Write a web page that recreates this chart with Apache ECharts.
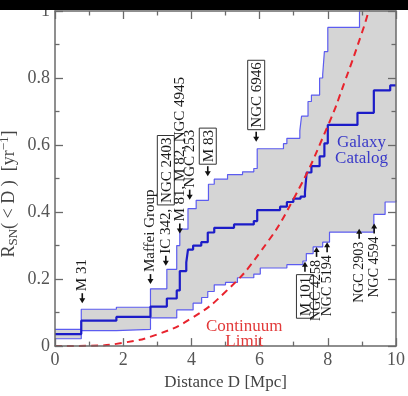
<!DOCTYPE html>
<html><head><meta charset="utf-8">
<script src="https://cdn.jsdelivr.net/npm/echarts@6/dist/echarts.min.js"></script>
<style>html,body{margin:0;padding:0;background:#fff}#c{width:408px;height:396px}</style>
</head><body><div id="c"></div>
<script>
// ---- data ----
const xTickLabels = ['0','2','4','6','8','10'];
const yTickLabels = ['0','0.2','0.4','0.6','0.8','1'];
// step functions: [distance D (Mpc), R_SN(<D) (1/yr)] value holds from D to next D
const upperBound = [[0,0.05],[0.77,0.11],[1.8,0.116],[2.8,0.171],[3.28,0.229],[3.57,0.30],[3.66,0.349],[3.9,0.41],[4.14,0.435],[4.5,0.483],[4.67,0.498],[5.06,0.512],[5.5,0.52],[5.83,0.53],[5.93,0.589],[6.7,0.604],[6.8,0.62],[7.18,0.643],[7.23,0.686],[7.42,0.73],[7.52,0.749],[7.76,0.8],[7.85,0.81],[7.9,0.879],[8.0,0.951],[8.93,1.05],[10,1.05]];
const galaxyCatalog = [[0,0.036],[0.77,0.076],[1.8,0.087],[2.8,0.118],[3.28,0.142],[3.57,0.166],[3.66,0.224],[3.85,0.25],[3.9,0.288],[4.05,0.3],[4.29,0.31],[4.48,0.339],[4.67,0.353],[5.25,0.363],[5.83,0.373],[5.93,0.406],[6.6,0.416],[6.8,0.43],[6.99,0.44],[7.2,0.446],[7.33,0.46],[7.38,0.518],[7.52,0.537],[7.76,0.566],[7.9,0.605],[8.0,0.66],[8.87,0.696],[9.35,0.763],[9.83,0.778],[10,0.778]];
const lowerBound = [[0,0.022],[0.77,0.046],[1.8,0.05],[2.8,0.084],[3.57,0.108],[4.05,0.128],[4.3,0.145],[4.48,0.163],[4.67,0.183],[5.0,0.19],[5.35,0.204],[5.83,0.215],[6.02,0.233],[6.8,0.243],[7.27,0.254],[7.37,0.276],[7.57,0.296],[7.85,0.31],[8.05,0.34],[9.35,0.393],[9.68,0.43],[10,0.435]];
const continuumLimit = [[0,0],[1,0.001],[2,0.01],[3,0.035],[4,0.083],[5,0.162],[6,0.278],[7,0.44],[8,0.657],[8.5,0.79],[9,0.935],[9.2,1.0],[9.4,1.07]];
// annotations: [text, D, R at arrow tip]
const aboveLabels = [['M 31',0.8,0.128],['Maffei Group',2.8,0.185],['IC 342, {b|NGC 2403}',3.25,0.24],['M 81, M 82, NGC 4945',3.66,0.336],['NGC 253',3.95,0.437],['{b|M 83}',4.48,0.507],['{b|NGC 6946}',5.9,0.61]];
const belowLabels = [['{b|M 101}',7.33,0.252],['NGC 4258',7.67,0.296],['NGC 5194',7.98,0.31],['NGC 2903',8.92,0.35],['NGC 4594',9.36,0.366]];
const curveLabels = [['Galaxy\nCatalog',8.99,0.585,'#3a3ac8',16],['Continuum\nLimit',5.55,0.036,'#e23a3a',15]];

const FONT = '"Liberation Serif","DejaVu Serif",serif';
const AX = '#6a6a6a';
function axis(extra){
  return Object.assign({
    type:'value', min:0, z:10,
    axisLine:{show:true, onZero:false, lineStyle:{color:AX, width:1.5}},
    axisTick:{show:true, inside:true, length:8, lineStyle:{color:AX, width:1.3}},
    minorTick:{show:true, splitNumber:2, length:4.5, lineStyle:{color:AX, width:1.3}},
    splitLine:{show:false}, minorSplitLine:{show:false}
  }, extra);
}
const chart = echarts.init(document.getElementById('c'));
chart.setOption({
  animation:false,
  grid:{left:55, right:8, top:11, bottom:38},
  xAxis:[
    axis({max:10, interval:2, position:'bottom',
      axisLabel:{margin:5, fontFamily:FONT, fontSize:18, color:'#555', formatter:(v)=>xTickLabels[Math.round(v/2)]},
      name:'Distance D [Mpc]', nameLocation:'middle', nameGap:21,
      nameTextStyle:{fontFamily:FONT, fontSize:17, color:'#444'}}),
    axis({max:10, interval:2, position:'top', axisLabel:{show:false}})
  ],
  yAxis:[
    axis({max:1, interval:0.2, position:'left',
      axisLabel:{margin:5, fontFamily:FONT, fontSize:18, color:'#555', formatter:(v)=>yTickLabels[Math.round(v*5)]}}),
    axis({max:1, interval:0.2, position:'right', axisLabel:{show:false}})
  ],
  series:[
    {type:'line', step:'end', data:upperBound, symbol:'none', z:1,
      lineStyle:{color:'#5c5cf0', width:1.2}, areaStyle:{color:'#d5d5d5', opacity:1}},
    {type:'line', step:'end', data:lowerBound, symbol:'none', z:2,
      lineStyle:{color:'#5c5cf0', width:1.2}, areaStyle:{color:'#ffffff', opacity:1}},
    {type:'line', step:'end', data:galaxyCatalog, symbol:'none', z:3,
      lineStyle:{color:'#1c1cc8', width:2.2}},
    {type:'line', smooth:true, data:continuumLimit, symbol:'none', z:4,
      lineStyle:{color:'#e8232d', width:2, type:[7,5]}}
  ]
});
function px(d,r){ return chart.convertToPixel({seriesIndex:0},[d,r]); }
const rich = {b:{borderColor:'#333', borderWidth:1, padding:[2,2,0,2], fontSize:15, fontFamily:FONT, fill:'#1a1a1a', color:'#1a1a1a'}};
const g = [];
// s = -1: arrow coming from above, pointing down; s = +1: from below, pointing up
function arrow(x, tip, s){
  g.push({type:'line', z:20, shape:{x1:x, y1:tip + s*10, x2:x, y2:tip + s*4}, style:{stroke:'#111', lineWidth:1.6}});
  g.push({type:'polygon', z:20, shape:{points:[[x-3,tip+s*5],[x+3,tip+s*5],[x,tip]]}, style:{fill:'#111'}});
}
aboveLabels.forEach(([t,d,r])=>{
  const [x,y] = px(d,r);
  arrow(x,y,-1);
  g.push({type:'text', z:20, x:x, y:y-12, rotation:Math.PI/2,
    style:{text:t, fontSize:15, fontFamily:FONT, fill:'#1a1a1a', align:'left', verticalAlign:'middle', rich:rich}});
});
belowLabels.forEach(([t,d,r])=>{
  const [x,y] = px(d,r);
  arrow(x,y,1);
  g.push({type:'text', z:20, x:x, y:y+13, rotation:Math.PI/2,
    style:{text:t, fontSize:14, fontFamily:FONT, fill:'#1a1a1a', align:'right', verticalAlign:'middle', rich:rich}});
});
curveLabels.forEach(([t,d,r,c,lh])=>{
  const [x,y] = px(d,r);
  g.push({type:'text', z:20, x:x, y:y,
    style:{text:t, fontSize:17, fontFamily:FONT, fill:c, align:'center', verticalAlign:'middle', lineHeight:lh}});
});
// y axis title with subscript / superscript
g.push({type:'text', z:20, x:9, y:194, rotation:Math.PI/2,
  style:{text:'R{sub|SN}( < D )  [yr{sup|−1}]', fontSize:18, fontFamily:FONT, fill:'#444', lineHeight:22,
    align:'center', verticalAlign:'middle',
    rich:{sub:{fontSize:13, fontFamily:FONT, fill:'#444', lineHeight:12, verticalAlign:'bottom'},
          sup:{fontSize:13, fontFamily:FONT, fill:'#444', lineHeight:12, verticalAlign:'top'}}}});
// dark band along the top edge of the reference image
g.push({type:'rect', z:30, shape:{x:0, y:0, width:408, height:10}, style:{fill:'#000'}});
chart.setOption({graphic:g});
</script></body></html>
